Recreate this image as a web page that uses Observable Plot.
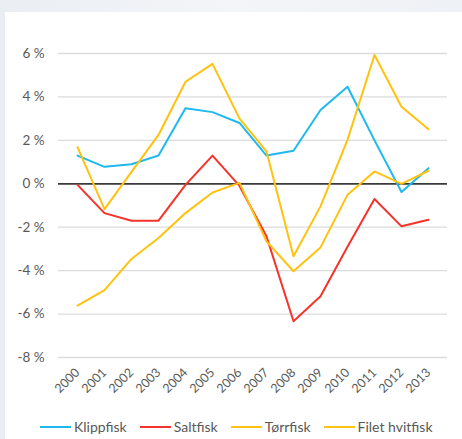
<!DOCTYPE html>
<html>
<head>
<meta charset="utf-8">
<script src="https://cdn.jsdelivr.net/npm/d3@7"></script>
<script src="https://cdn.jsdelivr.net/npm/@observablehq/plot@0.6"></script>
<style>
  html, body { margin: 0; padding: 0; }
  body { width: 462px; height: 439px; background: linear-gradient(90deg, #eaeef3, #f3f5f8 50%, #eef1f5); position: relative; overflow: hidden; font-family: Lato, "Open Sans", sans-serif; }
  #panel { position: absolute; left: 5px; top: 12px; right: 0; bottom: 0; background: #fff; }
  #chart { position: absolute; left: 0; top: 0; }
  #legend { position: absolute; left: 40px; top: 418px; display: flex; align-items: center; font-size: 14px; color: #595959; white-space: nowrap; }
  .item { display: flex; align-items: center; margin-right: 13px; }
  .sw { width: 31px; height: 2px; margin-right: 3px; }
</style>
</head>
<body>
<div id="panel"></div>
<div id="chart"></div>
<div id="legend"></div>
<script>
const years = [2000, 2001, 2002, 2003, 2004, 2005, 2006, 2007, 2008, 2009, 2010, 2011, 2012, 2013];
const seriesNames = ["Klippfisk", "Saltfisk", "Tørrfisk", "Filet hvitfisk"];
const seriesColors = ["#1fb9ef", "#f5332a", "#ffc20e", "#ffc20e"];
const klippfisk = [1.3, 0.78, 0.9, 1.3, 3.48, 3.3, 2.8, 1.3, 1.52, 3.4, 4.47, 2.0, -0.38, 0.72];
const saltfisk = [-0.05, -1.35, -1.7, -1.7, -0.05, 1.3, -0.1, -2.42, -6.33, -5.18, -2.9, -0.7, -1.96, -1.66];
const torrfisk = [1.69, -1.17, 0.55, 2.25, 4.7, 5.52, 3.0, 1.49, -3.34, -1.04, 2.02, 5.93, 3.55, 2.51];
const filetHvitfisk = [-5.61, -4.9, -3.46, -2.5, -1.35, -0.4, 0.04, -2.65, -4.03, -2.93, -0.51, 0.57, 0.0, 0.6];
const yTicks = [-8, -6, -4, -2, 0, 2, 4, 6];

const valueArrays = [klippfisk, saltfisk, torrfisk, filetHvitfisk];
const data = [];
seriesNames.forEach((name, i) => {
  years.forEach((yr, j) => data.push({series: name, year: String(yr), value: valueArrays[i][j]}));
});

const chart = Plot.plot({
  width: 462,
  height: 410,
  marginLeft: 58,
  marginRight: 15,
  marginTop: 53,
  marginBottom: 53,
  style: {background: "transparent", fontFamily: "Lato, 'Open Sans', sans-serif", color: "#595959"},
  x: {type: "point", domain: years.map(String), padding: 0.5},
  y: {domain: [-8, 6]},
  color: {domain: seriesNames, range: seriesColors},
  marks: [
    Plot.ruleY(yTicks.filter(d => d !== 0), {stroke: "#dcdcdc", strokeWidth: 1.3}),
    Plot.axisY(yTicks, {tickSize: 0, tickPadding: 14, tickFormat: d => d + " %", fontSize: 13.5, fill: "#595959", label: null}),
    Plot.axisX({tickSize: 0, tickPadding: 13, tickRotate: -45, fontSize: 12.5, fill: "#595959", label: null}),
    Plot.ruleY([0], {stroke: "#3a3a3a", strokeWidth: 1.8}),
    Plot.line(data, {x: "year", y: "value", z: "series", stroke: "series", strokeWidth: 2})
  ]
});
document.getElementById("chart").appendChild(chart);

const legend = document.getElementById("legend");
seriesNames.forEach((name, i) => {
  const item = document.createElement("div");
  item.className = "item";
  const sw = document.createElement("span");
  sw.className = "sw";
  sw.style.background = seriesColors[i];
  const t = document.createElement("span");
  t.textContent = name;
  item.appendChild(sw);
  item.appendChild(t);
  legend.appendChild(item);
});
</script>
</body>
</html>
